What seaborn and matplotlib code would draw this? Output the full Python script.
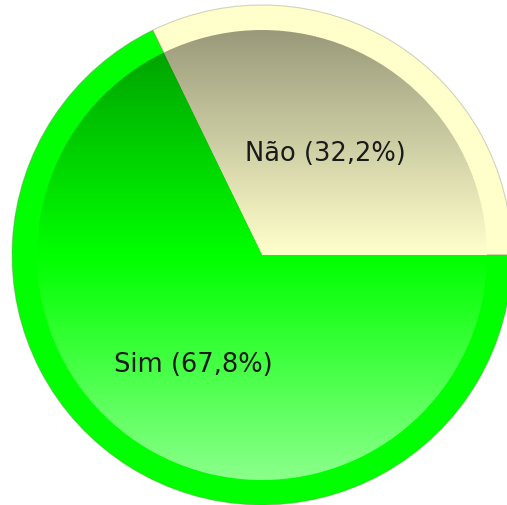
import numpy as np
import matplotlib
matplotlib.use("Agg")
import matplotlib.pyplot as plt
import seaborn as sns
from matplotlib.patches import Circle

# dados
labels = ["Não", "Sim"]
values = [32.2, 67.8]
colors = ["#ffffcc", "#00ff00"]
label_dist = [0.478, 0.52]

sns.set_theme(style="white")
plt.rcParams['font.family'] = ['DejaVu Sans']

fig = plt.figure(figsize=(5.07, 5.05), dpi=100)
ax = fig.add_axes([0, 0, 1, 1])

# anel externo (cor plana)
outer, _ = ax.pie(values, colors=colors, radius=1.0, startangle=0,
                  wedgeprops=dict(linewidth=0.8, edgecolor=(0.5, 0.5, 0.4, 0.35)))

# parte interna com gradiente
inner, texts = ax.pie(values, colors=colors, radius=0.9, startangle=0,
                      labels=[f"{l} ({v:.1f}%)".replace(".", ",") for l, v in zip(labels, values)],
                      labeldistance=0.5,
                      wedgeprops=dict(linewidth=0))

# overlay: escuro em cima, claro em baixo
n = 300
t = np.linspace(0, 1, n)[:, None]
overlay = np.zeros((n, 1, 4))
dark = t < 0.5
overlay[..., 3] = np.where(dark, 0.4 * (1 - 2 * t), 0.55 * (2 * t - 1))
overlay[..., :3] = np.where(dark[..., None], 0.0, 1.0)
im = ax.imshow(overlay, extent=[-0.9, 0.9, -0.9, 0.9], aspect='auto', zorder=2,
               interpolation='bilinear')
clip = Circle((0, 0), 0.9, transform=ax.transData)
im.set_clip_path(clip)

for w, t_, d in zip(inner, texts, label_dist):
    mid = np.deg2rad((w.theta1 + w.theta2) / 2)
    t_.set_position((d * np.cos(mid), d * np.sin(mid)))
    t_.set_fontsize(18.5)
    t_.set_color("#1a1a1a")
    t_.set_ha("center")
    t_.set_va("center")
    t_.set_zorder(5)

ax.set_xlim(-262 / 250, (507 - 262) / 250)
ax.set_ylim(-(505 - 255) / 250, 255 / 250)
ax.set_aspect('equal')
ax.axis('off')

fig.savefig("out.png", dpi=100, facecolor="white")
